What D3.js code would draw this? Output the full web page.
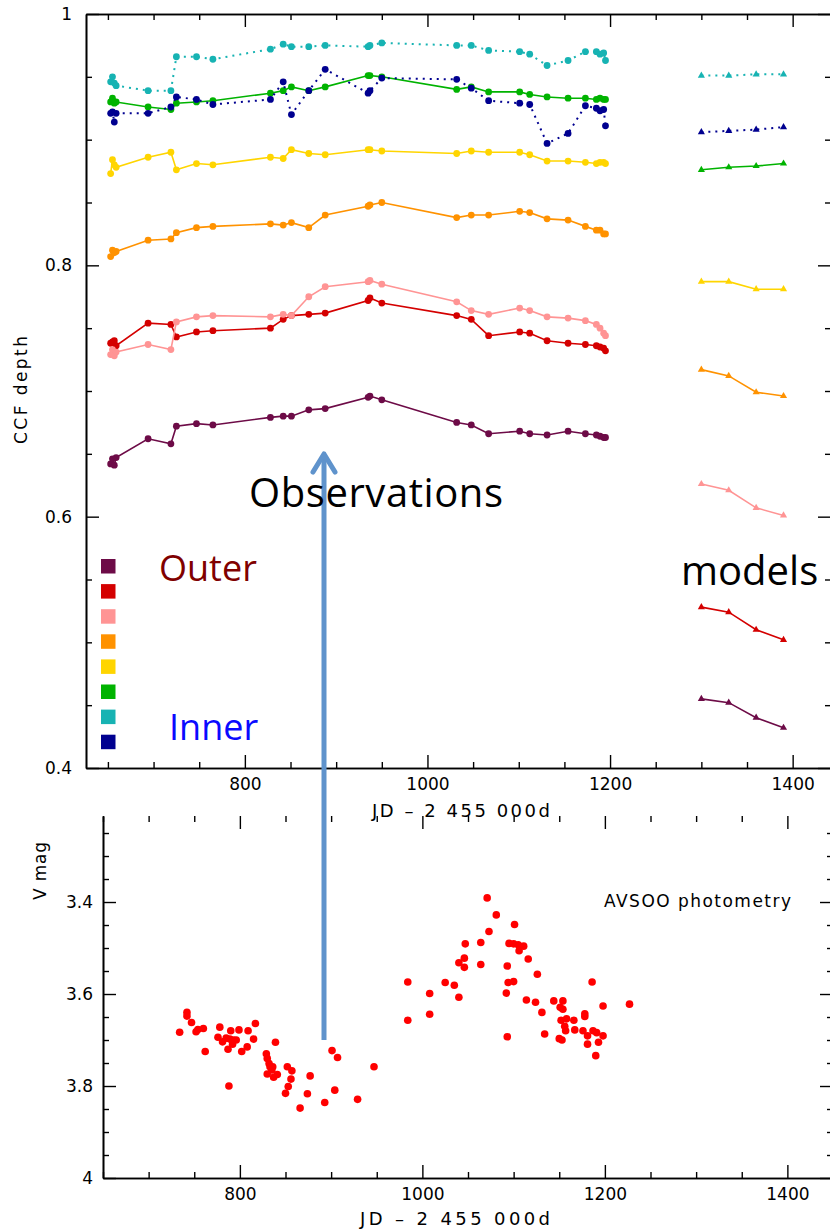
<!DOCTYPE html>
<html>
<head>
<meta charset="utf-8">
<script src="https://cdn.jsdelivr.net/npm/d3@7/dist/d3.min.js"></script>
<style>
  body { margin: 0; background: #fff; }
  svg { display: block; }
</style>
</head>
<body>
<svg id="chart" width="830" height="1230"></svg>
<script>
// observation epochs (JD - 2 455 000)
var obsDates = [653, 655, 657, 659, 694, 719, 725, 747, 765, 828, 842, 851, 870, 888,
                935, 937, 950, 1032, 1048, 1067, 1101, 1112, 1131, 1154, 1173, 1185, 1189, 1193, 1195];
var modelDates = [1300, 1330, 1360, 1390];

// CCF depth per mask, outer -> inner
var purpleObs = [0.642, 0.646, 0.641, 0.647, 0.662, 0.658, 0.672, 0.674, 0.673, 0.679, 0.680, 0.680, 0.685, 0.686,
                 0.695, 0.696, 0.693, 0.675, 0.673, 0.666, 0.668, 0.666, 0.665, 0.668, 0.666, 0.665, 0.664, 0.663, 0.663];
var redObs = [0.738, 0.739, 0.740, 0.736, 0.754, 0.753, 0.743, 0.747, 0.748, 0.750, 0.757, 0.760, 0.761, 0.762,
              0.772, 0.774, 0.770, 0.760, 0.757, 0.744, 0.747, 0.746, 0.740, 0.738, 0.737, 0.736, 0.735, 0.734, 0.732];
var pinkObs = [0.729, 0.733, 0.728, 0.731, 0.737, 0.733, 0.755, 0.759, 0.760, 0.759, 0.761, 0.760, 0.775, 0.783,
               0.787, 0.788, 0.785, 0.771, 0.764, 0.761, 0.766, 0.764, 0.759, 0.758, 0.756, 0.753, 0.750, 0.746, 0.744];
var orangeObs = [0.807, 0.812, 0.810, 0.811, 0.820, 0.821, 0.826, 0.830, 0.831, 0.833, 0.832, 0.834, 0.830, 0.840,
                 0.847, 0.848, 0.850, 0.838, 0.840, 0.840, 0.843, 0.842, 0.837, 0.836, 0.831, 0.828, 0.828, 0.825, 0.825];
var yellowObs = [0.873, 0.884, 0.880, 0.878, 0.886, 0.890, 0.876, 0.881, 0.880, 0.886, 0.885, 0.892, 0.889, 0.888,
                 0.892, 0.892, 0.891, 0.889, 0.891, 0.890, 0.890, 0.888, 0.883, 0.883, 0.882, 0.881, 0.882, 0.882, 0.881];
var greenObs = [0.930, 0.933, 0.929, 0.930, 0.926, 0.924, 0.929, 0.930, 0.931, 0.937, 0.939, 0.942, 0.939, 0.942,
                0.951, 0.951, 0.950, 0.940, 0.942, 0.938, 0.938, 0.936, 0.934, 0.933, 0.933, 0.932, 0.933, 0.932, 0.932];
var cyanObs = [0.946, 0.950, 0.945, 0.943, 0.939, 0.939, 0.966, 0.966, 0.964, 0.972, 0.976, 0.974, 0.974, 0.975,
               0.974, 0.975, 0.977, 0.975, 0.975, 0.971, 0.970, 0.968, 0.959, 0.963, 0.970, 0.970, 0.968, 0.969, 0.963];
var navyObs = [0.921, 0.922, 0.914, 0.921, 0.921, 0.926, 0.934, 0.932, 0.928, 0.932, 0.946, 0.920, 0.939, 0.956,
               0.937, 0.939, 0.949, 0.948, 0.941, 0.931, 0.929, 0.928, 0.897, 0.905, 0.927, 0.925, 0.923, 0.924, 0.911];

var purpleMod = [0.455, 0.452, 0.440, 0.432];
var redMod = [0.528, 0.524, 0.510, 0.502];
var pinkMod = [0.626, 0.621, 0.607, 0.601];
var orangeMod = [0.717, 0.712, 0.699, 0.696];
var yellowMod = [0.787, 0.787, 0.781, 0.781];
var greenMod = [0.876, 0.878, 0.879, 0.881];
var cyanMod = [0.951, 0.951, 0.952, 0.952];
var navyMod = [0.906, 0.907, 0.908, 0.910];

var maskNames = ["purple", "red", "pink", "orange", "yellow", "green", "cyan", "navy"];
var maskColors = ["#6d0b47", "#d40000", "#ff9494", "#ff9200", "#ffd500", "#00b300", "#17b3b3", "#000090"];
var maskDotted = [false, false, false, false, false, false, true, true];
var maskObs = [purpleObs, redObs, pinkObs, orangeObs, yellowObs, greenObs, cyanObs, navyObs];
var maskMod = [purpleMod, redMod, pinkMod, orangeMod, yellowMod, greenMod, cyanMod, navyMod];

// AAVSO V photometry
var photJD = [734, 742, 742, 747, 752, 754, 760, 762, 778, 776, 781, 785, 787, 790, 789, 792, 793, 796, 799, 802,
              808, 809, 815, 817, 788, 829, 830, 832, 833, 835, 836, 830, 837, 841, 839, 852, 857, 856, 853, 850,
              866, 874, 877, 893, 901, 907, 904, 929, 947, 984, 984, 1008, 1008, 1025, 1035, 1040, 1040, 1046, 1046, 1047,
              1064, 1064, 1071, 1073, 1081, 1093, 1094, 1092, 1093, 1095, 1100, 1101, 1100, 1105, 1106, 1111, 1116, 1114,
              1124, 1126, 1131, 1134, 1144, 1154, 1151, 1154, 1152, 1158, 1156, 1157, 1150, 1153, 1166, 1167, 1176, 1178,
              1178, 1181, 1181, 1186, 1187, 1191, 1190, 1193, 1198, 1198, 1227];
var photMag = [3.683, 3.640, 3.648, 3.662, 3.682, 3.677, 3.675, 3.725, 3.672, 3.694, 3.704, 3.696, 3.720, 3.680, 3.698, 3.709, 3.700, 3.700, 3.678, 3.725,
               3.715, 3.680, 3.698, 3.664, 3.800, 3.730, 3.740, 3.751, 3.758, 3.765, 3.758, 3.774, 3.781, 3.775, 3.705, 3.758, 3.767, 3.785, 3.801, 3.816,
               3.848, 3.817, 3.778, 3.836, 3.723, 3.738, 3.809, 3.829, 3.758, 3.574, 3.657, 3.599, 3.644, 3.575, 3.581, 3.532, 3.607, 3.522, 3.542, 3.491,
               3.488, 3.536, 3.391, 3.464, 3.428, 3.539, 3.575, 3.598, 3.693, 3.490, 3.573, 3.449, 3.491, 3.493, 3.506, 3.496, 3.524, 3.613,
               3.618, 3.557, 3.640, 3.687, 3.615, 3.615, 3.629, 3.633, 3.657, 3.654, 3.670, 3.680, 3.697, 3.700, 3.657, 3.678, 3.680, 3.643,
               3.649, 3.691, 3.709, 3.574, 3.680, 3.684, 3.734, 3.705, 3.626, 3.691, 3.622];

var svg = d3.select("#chart");
var axisFont = "'DejaVu Sans', sans-serif";
var textFont = "'Open Sans', sans-serif";

var topX = d3.scaleLinear().domain([626, 1442]).range([86, 831]);
var topY = d3.scaleLinear().domain([0.4, 1]).range([768, 14]);
var botX = d3.scaleLinear().domain([650, 1450]).range([103, 833]);
var botY = d3.scaleLinear().domain([4, 3.213]).range([1178, 816]);

var xMajor = [800, 1000, 1200, 1400];
var xMinor = d3.range(650, 1450, 50).filter(function(d) { return xMajor.indexOf(d) < 0; });
var ccfMajor = [0.4, 0.6, 0.8, 1];
var ccfMinor = [0.45, 0.5, 0.55, 0.65, 0.7, 0.75, 0.85, 0.9, 0.95];
var magMajor = [3.4, 3.6, 3.8, 4];
var magMinor = [3.25, 3.3, 3.35, 3.45, 3.5, 3.55, 3.65, 3.7, 3.75, 3.85, 3.9, 3.95];

// one side of a frame: major ticks (labels optional) + minor ticks, all pointing inward
function side(axisFn, scale, tr, major, minor, fmt, keepLine, pad) {
    var g = svg.append("g").attr("transform", tr);
    g.append("g").call(axisFn(scale).tickValues(major).tickSizeInner(-13).tickSizeOuter(0)
        .tickPadding(pad || 8).tickFormat(fmt || ""));
    g.append("g").call(axisFn(scale).tickValues(minor).tickSizeInner(-6).tickSizeOuter(0).tickFormat(""));
    g.selectAll(".domain").attr("stroke", "#000").attr("stroke-width", 1.6);
    if (!keepLine) g.selectAll(".domain").remove();
    g.selectAll(".tick line").attr("stroke", "#000").attr("stroke-width", 1.4);
    g.selectAll("text").attr("font-family", axisFont).attr("font-size", 17).attr("fill", "#000");
    return g;
}

var numFmt = function(d) { return d3.format("")(d); };

// top panel frame
side(d3.axisLeft, topY, "translate(86,0)", ccfMajor, ccfMinor, numFmt, true, 14);
side(d3.axisBottom, topX, "translate(0,768)", xMajor, xMinor, numFmt, true, 10);
side(d3.axisTop, topX, "translate(0,14)", xMajor, xMinor, null, true);
side(d3.axisRight, topY, "translate(831,0)", ccfMajor, ccfMinor, null, false);

// bottom panel frame
side(d3.axisLeft, botY, "translate(103,0)", magMajor, magMinor, numFmt, true, 10);
side(d3.axisBottom, botX, "translate(0,1178)", xMajor, xMinor, numFmt, true, 10);
side(d3.axisTop, botX, "translate(0,816)", xMajor, xMinor, null, false);
side(d3.axisRight, botY, "translate(833,0)", magMajor, magMinor, null, false);

// CCF depth curves
var topData = svg.append("g").attr("class", "data");
var line = d3.line()
    .x(function(d) { return topX(d[0]); })
    .y(function(d) { return topY(d[1]); });

maskNames.forEach(function(name, k) {
    var obs = obsDates.map(function(t, i) { return [t, maskObs[k][i]]; });
    var mod = modelDates.map(function(t, i) { return [t, maskMod[k][i]]; });
    var color = maskColors[k];

    [obs, mod].forEach(function(pts) {
        topData.append("path")
            .datum(pts)
            .attr("d", line)
            .attr("fill", "none")
            .attr("stroke", color)
            .attr("stroke-width", maskDotted[k] ? 2 : 1.6)
            .attr("stroke-dasharray", maskDotted[k] ? "2,5" : null);
    });

    topData.append("g").selectAll("circle")
        .data(obs)
        .enter()
        .append("circle")
        .attr("cx", function(d) { return topX(d[0]); })
        .attr("cy", function(d) { return topY(d[1]); })
        .attr("r", 3.4)
        .attr("fill", color);

    topData.append("g").selectAll("path")
        .data(mod)
        .enter()
        .append("path")
        .attr("d", d3.symbol().type(d3.symbolTriangle).size(22))
        .attr("transform", function(d) { return "translate(" + topX(d[0]) + "," + topY(d[1]) + ")"; })
        .attr("fill", color);
});

// legend squares
svg.append("g").selectAll("rect")
    .data(maskColors)
    .enter()
    .append("rect")
    .attr("x", 101)
    .attr("y", function(d, i) { return 559 + i * 25.1; })
    .attr("width", 14.5)
    .attr("height", 14.5)
    .attr("fill", function(d) { return d; });

// photometry
svg.append("g").selectAll("circle")
    .data(photJD)
    .enter()
    .append("circle")
    .attr("cx", function(d) { return botX(d); })
    .attr("cy", function(d, i) { return botY(photMag[i]); })
    .attr("r", 3.8)
    .attr("fill", "#ff0000");

// axis titles
svg.append("text")
    .attr("transform", "translate(27,390) rotate(-90)")
    .attr("text-anchor", "middle")
    .attr("font-family", axisFont).attr("font-size", 17)
    .attr("textLength", 108)
    .text("CCF depth");
svg.append("text")
    .attr("x", 461).attr("y", 817)
    .attr("text-anchor", "middle")
    .attr("font-family", axisFont).attr("font-size", 18)
    .attr("textLength", 178)
    .text("JD – 2 455 000d");
svg.append("text")
    .attr("x", 455).attr("y", 1225)
    .attr("text-anchor", "middle")
    .attr("font-family", axisFont).attr("font-size", 18)
    .attr("textLength", 190)
    .text("JD – 2 455 000d");
svg.append("text")
    .attr("transform", "translate(46,871) rotate(-90)")
    .attr("text-anchor", "middle")
    .attr("font-family", axisFont).attr("font-size", 17)
    .attr("textLength", 58)
    .text("V mag");
svg.append("text")
    .attr("x", 604).attr("y", 907)
    .attr("font-family", axisFont).attr("font-size", 17)
    .attr("textLength", 187)
    .text("AVSOO photometry");

// annotations
svg.append("text").attr("x", 159).attr("y", 581)
    .attr("font-family", textFont).attr("font-size", 36).attr("fill", "#800000")
    .text("Outer");
svg.append("text").attr("x", 169).attr("y", 740)
    .attr("font-family", textFont).attr("font-size", 36).attr("fill", "#0a0aff")
    .text("Inner");
svg.append("text").attr("x", 681).attr("y", 585)
    .attr("font-family", textFont).attr("font-size", 40).attr("fill", "#000")
    .text("models");

// arrow from the photometry dip up to the observations
var arrowColor = "#5f93cc";
svg.append("line")
    .attr("x1", 324).attr("y1", 1040).attr("x2", 324).attr("y2", 455)
    .attr("stroke", arrowColor).attr("stroke-width", 5);
svg.append("path")
    .attr("d", "M313,472 L324,454 L335,472")
    .attr("fill", "none")
    .attr("stroke", arrowColor).attr("stroke-width", 5)
    .attr("stroke-linecap", "round").attr("stroke-linejoin", "round");

svg.append("text").attr("x", 249).attr("y", 507)
    .attr("font-family", textFont).attr("font-size", 40).attr("fill", "#000")
    .attr("textLength", 254)
    .text("Observations");
</script>
</body>
</html>
